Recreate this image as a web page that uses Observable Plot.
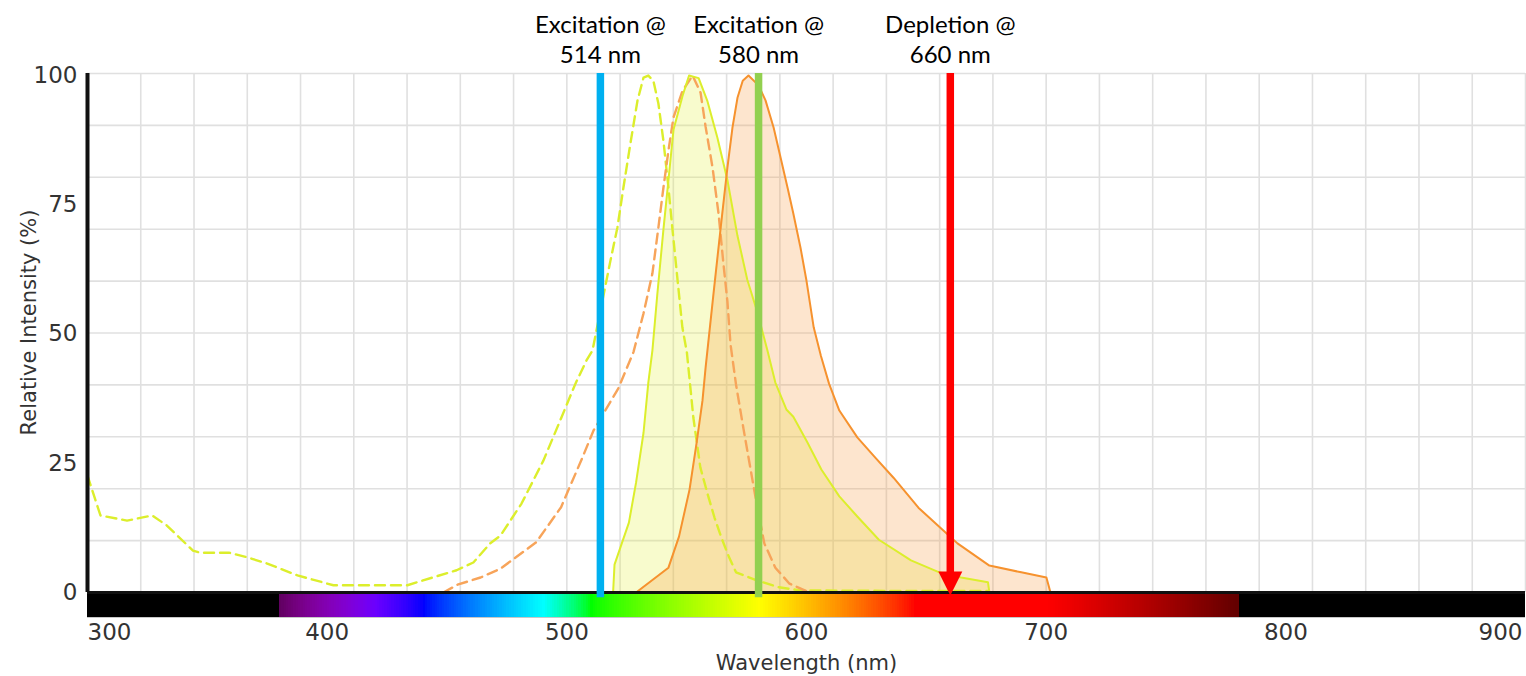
<!DOCTYPE html>
<html>
<head>
<meta charset="utf-8">
<script src="https://cdn.jsdelivr.net/npm/d3@7"></script>
<script src="https://cdn.jsdelivr.net/npm/@observablehq/plot@0.6"></script>
<style>
  body { margin: 0; background: #fff; }
</style>
</head>
<body>
<div id="chart"></div>
<script>
// Dye 1 (yellow) excitation spectrum, wavelength (nm) and relative intensity (%)
const yellowExcitationNm = [300,305.4,316.5,327,333,344,347,359,366.7,375,387.6,402.6,433.5,444,454,461,468,472.3,481.1,490.2,497.7,503.6,508.2,510.7,514,518.2,521.1,523.6,526.5,529.5,532,534,536.1,538.2,540.3,542.4,544,546.1,548.2,550.1,552.8,555.7,558.7,561.6,564.5,567.7,570.6,579.5,588.5,597.5,640,676];
const yellowExcitation   = [22.6,14.9,13.9,14.9,13.0,8.1,7.7,7.7,6.8,5.6,3.3,1.4,1.4,2.9,4.3,5.8,9.5,11.0,17.2,25.5,33.8,40.4,44.9,46.8,54.5,64.2,70.6,78.3,86.8,95.2,99.6,100,99.0,94.6,87.4,78.3,70.6,60.9,51.3,46.4,33.8,24.2,19.1,14.5,10.6,6.8,3.9,2.3,1.0,0.4,0.3,0.3];

// Dye 1 (yellow) emission spectrum
const yellowEmissionNm = [519.3,519.9,525.9,528.9,532,534,535.7,537.7,540.3,542.4,544.5,548.3,551,555,558.7,562.8,567,571.2,575.3,579.5,583.7,587,591.6,594.5,600.4,606.2,613.7,621.2,630.2,643.6,655.4,664.5,675.7,676.3];
const yellowEmission   = [0,5.4,13.5,21.3,30.9,40.6,46.8,57.4,70.2,79.8,89.5,96.1,100,99.5,95.0,88.0,79.8,69.0,60.5,54.2,46.8,40.6,35.4,34.0,29.0,23.8,18.6,14.7,10.2,6.2,3.9,2.9,2.0,0];

// Dye 2 (orange) excitation spectrum
const orangeExcitationNm = [448.5,454.4,464,472.3,487.2,497.6,506.5,511.1,521.5,527.8,532,535.7,538.2,540.3,542.4,544.5,548.3,552.5,555.8,557.9,560.8,563.3,565.3,567,568.3,570.6,573.7,576.6,579.5,582.4,587,592.9,600.4,605];
const orangeExcitation   = [0,1.5,2.9,4.6,9.7,16.5,26.1,31.3,39.5,46.5,54.0,61.7,70.6,78.3,85.5,91.9,97.1,100,96.7,90.1,82.2,73.3,63.8,56.3,48.0,40.2,31.7,24.0,16.4,9.5,4.8,1.7,0.2,0];

// Dye 2 (orange) emission spectrum
const orangeEmissionNm = [528.9,542.4,546.8,551.2,554.1,556.6,557.9,561.2,564.2,567,569.1,571.2,573.4,575.8,580,582.9,586.3,589.2,592.1,594.5,597.5,600,603,606,609.4,613.7,621.2,628.7,636.3,646.7,657.1,663,676.3,689.6,700.1,701.8];
const orangeEmission   = [0,4.8,10.8,19.9,28.8,37.1,43.5,57.8,70.6,82.2,89.9,95.7,99.0,100,98.1,95.2,89.9,84.1,78.3,73.3,66.7,60.3,51.3,45.8,40.4,35.2,30.0,26.1,22.2,16.4,12.0,9.5,5.2,3.9,2.9,0];

// Laser lines
const laserNm    = [514, 580, 660];
const laserRole  = ["Excitation", "Excitation", "Depletion"];
const laserColor = ["#00b0f0", "#92d050", "#ff0000"];

// Axis ticks
const xTicks = [300, 400, 500, 600, 700, 800, 900];
const yTicks = [0, 25, 50, 75, 100];

// Scale extents: the band below zero holds the visible-spectrum strip
const xDomain = [300, 900];
const visibleRange = [380, 780];
const yTop = 100.4;
const yBottom = -4.84;

// Grid: 27 vertical and 10 horizontal divisions
const gridX = d3.range(0, 28).map(k => xDomain[0] + k * (xDomain[1] - xDomain[0]) / 27);
const gridY = d3.range(0, 11).map(k => k * yTop / 10);

const zip = (xs, ys) => xs.map((x, i) => ({nm: x, v: ys[i]}));
const yEx = zip(yellowExcitationNm, yellowExcitation);
const yEm = zip(yellowEmissionNm, yellowEmission);
const oEx = zip(orangeExcitationNm, orangeExcitation);
const oEm = zip(orangeEmissionNm, orangeEmission);
const lasers = laserNm.map((nm, i) => ({nm, label: `${laserRole[i]} @\n${nm} nm`, color: laserColor[i]}));

// Approximate RGB of a visible wavelength (380–780 nm), black outside
function spectrumColor(w) {
  let r = 0, g = 0, b = 0;
  if (w >= 380 && w < 440) { r = (440 - w) / 60; b = 1; }
  else if (w >= 440 && w < 490) { g = (w - 440) / 50; b = 1; }
  else if (w >= 490 && w < 510) { g = 1; b = (510 - w) / 20; }
  else if (w >= 510 && w < 580) { r = (w - 510) / 70; g = 1; }
  else if (w >= 580 && w < 645) { r = 1; g = (645 - w) / 65; }
  else if (w >= 645 && w <= 780) { r = 1; }
  let f = 0;
  if (w >= 380 && w < 420) f = 0.3 + 0.7 * (w - 380) / 40;
  else if (w >= 420 && w <= 700) f = 1;
  else if (w > 700 && w <= 780) f = 0.3 + 0.7 * (780 - w) / 80;
  const c = v => Math.round(255 * Math.pow(v * f, 0.8));
  return `rgb(${c(r)},${c(g)},${c(b)})`;
}
const spectrumNm = d3.range(visibleRange[0], visibleRange[1], 1);

// Downward-pointing arrowhead with its tip at the anchor point
const arrowHead = {
  draw(context, size) {
    const r = Math.sqrt(size / Math.PI);
    context.moveTo(0, 0);
    context.lineTo(-r, -2 * r);
    context.lineTo(r, -2 * r);
    context.closePath();
  }
};

const yellow = "#dcee2c";
const orange = "#f6922e";
const gridColor = "#e0e0e0";
const tickFont = 23;
const inkColor = "#333";

const chart = Plot.plot({
  width: 1526,
  height: 676,
  marginTop: 73,
  marginRight: 1,
  marginBottom: 59,
  marginLeft: 87,
  style: {background: "#fff", fontFamily: "'DejaVu Sans', sans-serif", color: inkColor},
  x: {domain: xDomain, axis: null},
  y: {domain: [yBottom, yTop], axis: null},
  color: {type: "identity"},
  marks: [
    // grid
    Plot.ruleX(gridX, {y1: 0, y2: yTop, stroke: gridColor, strokeWidth: 1.6}),
    Plot.ruleY(gridY, {x1: xDomain[0], x2: xDomain[1], stroke: gridColor, strokeWidth: 1.6}),

    // emission areas
    Plot.areaY(yEm, {x: "nm", y: "v", fill: "#e4f03c", fillOpacity: 0.26}),
    Plot.areaY(oEm, {x: "nm", y: "v", fill: "#f8963c", fillOpacity: 0.25}),

    // excitation curves (dashed)
    Plot.line(yEx, {x: "nm", y: "v", stroke: yellow, strokeWidth: 2.4, strokeDasharray: "10,6"}),
    Plot.line(oEx, {x: "nm", y: "v", stroke: "#f7a45a", strokeWidth: 2.4, strokeDasharray: "10,6"}),

    // emission outlines
    Plot.line(yEm, {x: "nm", y: "v", stroke: yellow, strokeWidth: 2}),
    Plot.line(oEm, {x: "nm", y: "v", stroke: orange, strokeWidth: 2}),

    // visible-spectrum strip under the axis: black band, then coloured 1 nm cells
    Plot.rect([xDomain], {x1: d => d[0], x2: d => d[1], y1: yBottom, y2: 0, fill: "#000"}),
    Plot.rect(spectrumNm, {
      x1: d => d, x2: d => d + 1.5, y1: yBottom, y2: 0,
      fill: d => spectrumColor(d), shapeRendering: "crispEdges"
    }),
    Plot.ruleY([yBottom], {x1: xDomain[0], x2: xDomain[1], stroke: "#c8c8c8", strokeWidth: 1}),
    Plot.ruleY([0], {x1: xDomain[0], x2: xDomain[1], stroke: "#111", strokeWidth: 3}),

    // laser lines
    Plot.ruleX(lasers.filter(d => d.nm !== 660), {x: "nm", y1: -1, y2: yTop, stroke: "color", strokeWidth: 7.5}),
    Plot.ruleX(lasers.filter(d => d.nm === 660), {x: "nm", y1: 3.7, y2: yTop, stroke: "color", strokeWidth: 7.5}),
    Plot.dot(lasers.filter(d => d.nm === 660), {x: "nm", y: -0.6, symbol: arrowHead, r: 12, fill: "color", stroke: "none"}),

    // left axis line
    Plot.ruleX([xDomain[0]], {y1: 0, y2: yTop, stroke: "#111", strokeWidth: 4}),

    // y ticks
    Plot.axisY({ticks: yTicks, tickSize: 0, tickPadding: 10, fontSize: tickFont, label: null, fill: inkColor}),

    // x ticks (edge labels kept inside the frame)
    Plot.text(xTicks.slice(1, -1), {x: d => d, frameAnchor: "bottom", lineAnchor: "middle", dy: 15, fontSize: tickFont, fill: inkColor}),
    Plot.text(xTicks.slice(0, 1), {x: d => d, frameAnchor: "bottom", lineAnchor: "middle", textAnchor: "start", dy: 15, fontSize: tickFont, fill: inkColor}),
    Plot.text(xTicks.slice(-1), {x: d => d, frameAnchor: "bottom", lineAnchor: "middle", textAnchor: "end", dx: -3, dy: 15, fontSize: tickFont, fill: inkColor}),

    // axis titles
    Plot.text(["Wavelength (nm)"], {frameAnchor: "bottom", lineAnchor: "middle", dy: 46, fontSize: 21, fill: inkColor}),
    Plot.text(["Relative Intensity (%)"], {frameAnchor: "left", textAnchor: "middle", lineAnchor: "middle", rotate: -90, dx: -58, dy: -23, fontSize: 21, fill: inkColor}),

    // laser annotations above the plot
    Plot.text(lasers, {
      x: "nm", text: "label", frameAnchor: "top", lineAnchor: "bottom", dy: -11,
      fontFamily: "Lato, 'Open Sans', sans-serif", fontSize: 24, lineHeight: 1.25, fill: "#000"
    })
  ]
});

document.getElementById("chart").appendChild(chart);
</script>
</body>
</html>
